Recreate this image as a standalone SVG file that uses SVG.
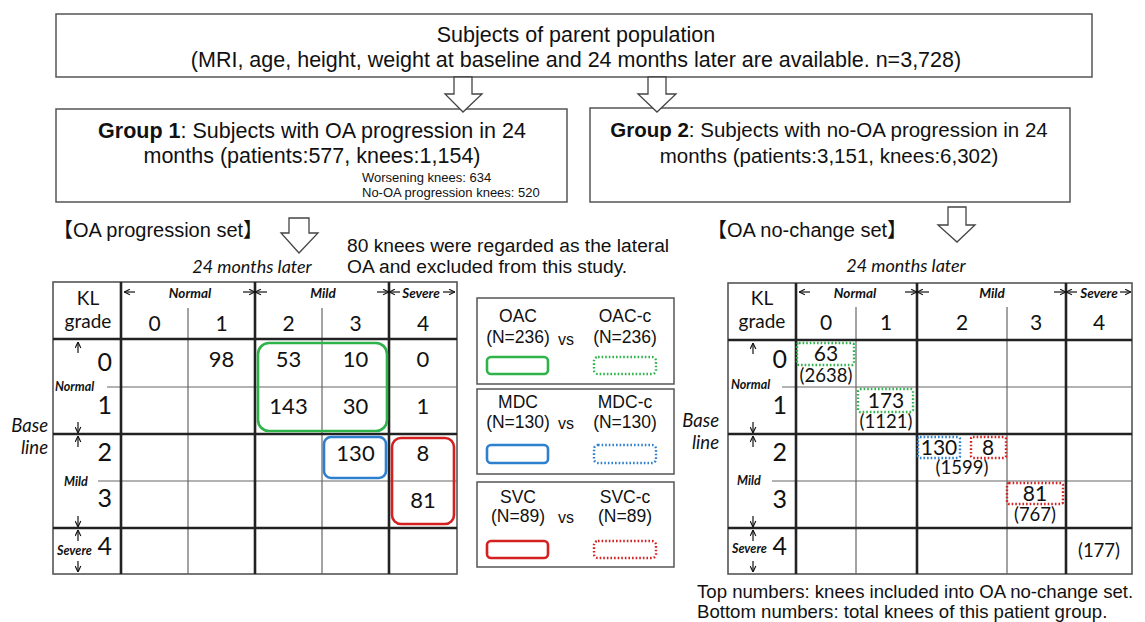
<svg xmlns="http://www.w3.org/2000/svg" width="1145" height="622" viewBox="0 0 1145 622">
  <defs>
    <style>
      .box { fill: #ffffff; stroke: #555555; stroke-width: 1.5; }
      .arr { fill: #ffffff; stroke: #444444; stroke-width: 1.3; stroke-linejoin: miter; }
      .sans { font-family: "Liberation Sans", Arial, "Noto Sans CJK JP", sans-serif; fill: #111111; }
      .cal { font-family: Lato, "Open Sans", sans-serif; fill: #111111; }
      .rng { font-family: Lato, "Open Sans", sans-serif; font-weight: bold; font-style: italic; font-size: 13.5px; fill: #111111; }
      .lbl { font-family: Lato, "Open Sans", sans-serif; font-weight: bold; font-style: italic; font-size: 12.5px; fill: #111111; }
      .thin { stroke: #666666; stroke-width: 1.2; fill: none; }
      .thick { stroke: #222222; stroke-width: 2.6; fill: none; }
      .frame { stroke: #555555; stroke-width: 1.6; fill: none; }
      .tick { stroke: #111111; stroke-width: 1.2; fill: none; marker-end: url(#ah); }
      .num { font-size: 22px; text-anchor: middle; }
      .lab { font-size: 25px; text-anchor: end; }
      .hd { font-size: 21px; text-anchor: middle; }
      .g { stroke: #2db34a; }
      .b { stroke: #2f7fcf; }
      .r { stroke: #d42020; }
      .solid { fill: none; stroke-width: 2.6; }
      .dot { fill: none; stroke-width: 2.4; stroke-dasharray: 1.6 2; }
      .lg { font-size: 17.5px; text-anchor: middle; }
    </style>
    <marker id="ah" viewBox="0 0 10 10" refX="9.5" refY="5" markerWidth="7" markerHeight="7" markerUnits="userSpaceOnUse" orient="auto">
      <path d="M1,1 L9.5,5 L1,9" fill="none" stroke="#111111" stroke-width="1.6"/>
    </marker>
  </defs>

  <!-- parent population -->
  <g id="parent">
    <rect class="box" x="56" y="14" width="1036" height="63"/>
    <text class="sans" x="576" y="42" font-size="21.5" text-anchor="middle">Subjects of parent population</text>
    <text class="sans" x="576" y="67" font-size="21.5" text-anchor="middle">(MRI, age, height, weight at baseline and 24 months later are available. n=3,728)</text>
  </g>

  <!-- group 1 -->
  <g id="group1">
    <rect class="box" x="56" y="109" width="511" height="93"/>
    <text class="sans" x="312" y="138" font-size="21.5" text-anchor="middle"><tspan font-weight="bold">Group 1</tspan>: Subjects with OA progression in 24</text>
    <text class="sans" x="312" y="163" font-size="21.5" text-anchor="middle">months (patients:577, knees:1,154)</text>
    <text class="sans" x="362" y="182" font-size="13">Worsening knees: 634</text>
    <text class="sans" x="362" y="197" font-size="13">No-OA progression knees: 520</text>
  </g>

  <!-- group 2 -->
  <g id="group2">
    <rect class="box" x="590" y="108" width="480" height="94"/>
    <text class="sans" x="829" y="137" font-size="20.5" text-anchor="middle"><tspan font-weight="bold">Group 2</tspan>: Subjects with no-OA progression in 24</text>
    <text class="sans" x="829" y="163" font-size="20.5" text-anchor="middle">months (patients:3,151, knees:6,302)</text>
  </g>

  <!-- block arrows -->
  <g id="connectors">
    <polygon class="arr" points="454,77 472,77 472,94 482,94 463,112 445,94 454,94"/>
    <polygon class="arr" points="648,77 666,77 666,94 676,94 657,112 638,94 648,94"/>
    <polygon class="arr" points="289,218 309,218 309,233 318,233 299,253 281,233 289,233"/>
    <polygon class="arr" points="948,207 966,207 966,225 975,225 957,242 938,225 948,225"/>
  </g>

  <!-- set titles and notes -->
  <g id="titles">
    <text class="sans" x="53" y="237" font-size="20">【OA progression set】</text>
    <text class="sans" x="707" y="237" font-size="20">【OA no-change set】</text>
    <text class="sans" x="347" y="252" font-size="19.2">80 knees were regarded as the lateral</text>
    <text class="sans" x="347" y="273" font-size="19.2">OA and excluded from this study.</text>
    <text class="cal" x="252" y="273" font-size="18" font-style="italic" text-anchor="middle">24 months later</text>
    <text class="cal" x="906" y="272" font-size="18" font-style="italic" text-anchor="middle">24 months later</text>
    <text class="cal" x="48" y="432" font-size="18.5" font-style="italic" text-anchor="end">Base</text>
    <text class="cal" x="48" y="454" font-size="18.5" font-style="italic" text-anchor="end">line</text>
    <text class="cal" x="719" y="427" font-size="18.5" font-style="italic" text-anchor="end">Base</text>
    <text class="cal" x="719" y="449" font-size="18.5" font-style="italic" text-anchor="end">line</text>
  </g>

  <!-- OA progression table -->
  <g id="table-progression">
    <rect class="frame" x="53" y="282" width="404" height="292"/>
    <line class="thin" x1="188" y1="308" x2="188" y2="574"/>
    <line class="thin" x1="322" y1="308" x2="322" y2="574"/>
    <line class="thin" x1="107" y1="387" x2="457" y2="387"/>
    <line class="thin" x1="98" y1="481" x2="457" y2="481"/>
    <line class="thick" x1="121" y1="282" x2="121" y2="574"/>
    <line class="thick" x1="255" y1="282" x2="255" y2="574"/>
    <line class="thick" x1="389" y1="282" x2="389" y2="574"/>
    <line class="thick" x1="53" y1="339" x2="457" y2="339"/>
    <line class="thick" x1="53" y1="434" x2="457" y2="434"/>
    <line class="thick" x1="53" y1="528" x2="457" y2="528"/>

    <text class="cal" x="88" y="305" font-size="19" text-anchor="middle">KL</text>
    <text class="cal" x="88" y="328" font-size="19" text-anchor="middle">grade</text>

    <path class="tick" d="M135,292 H124"/>
    <text class="rng" x="190" y="298" text-anchor="middle">Normal</text>
    <path class="tick" d="M243,292 H255"/>
    <path class="tick" d="M267,292 H255"/>
    <text class="rng" x="323" y="298" text-anchor="middle">Mild</text>
    <path class="tick" d="M377,292 H389"/>
    <path class="tick" d="M400,292 H389"/>
    <text class="rng" x="421" y="298" text-anchor="middle">Severe</text>
    <path class="tick" d="M443,292 H455"/>

    <text class="cal hd" x="154.5" y="331">0</text>
    <text class="cal hd" x="221.5" y="331">1</text>
    <text class="cal hd" x="288.5" y="331">2</text>
    <text class="cal hd" x="355.5" y="331">3</text>
    <text class="cal hd" x="423" y="331">4</text>

    <path class="tick" d="M78,353 V342"/>
    <text class="cal lab" x="112" y="371">0</text>
    <text class="lbl" x="55" y="391">Normal</text>
    <text class="cal lab" x="112" y="414">1</text>
    <path class="tick" d="M78,422 V433"/>
    <path class="tick" d="M78,447 V436"/>
    <text class="cal lab" x="112" y="461">2</text>
    <text class="lbl" x="64" y="486">Mild</text>
    <text class="cal lab" x="112" y="507">3</text>
    <path class="tick" d="M78,516 V527"/>
    <path class="tick" d="M78,541 V530"/>
    <text class="lbl" x="57" y="555">Severe</text>
    <text class="cal lab" x="112" y="555">4</text>
    <path class="tick" d="M78,561 V572"/>

    <text class="cal num" x="221.5" y="367">98</text>
    <text class="cal num" x="288.5" y="367">53</text>
    <text class="cal num" x="355.5" y="367">10</text>
    <text class="cal num" x="423" y="367">0</text>
    <text class="cal num" x="288.5" y="414">143</text>
    <text class="cal num" x="355.5" y="414">30</text>
    <text class="cal num" x="423" y="414">1</text>
    <text class="cal num" x="355.5" y="461">130</text>
    <text class="cal num" x="423" y="461">8</text>
    <text class="cal num" x="423" y="508">81</text>

    <rect class="solid g" x="258" y="343" width="129" height="88" rx="11"/>
    <rect class="solid b" x="324" y="437" width="62" height="41" rx="7"/>
    <rect class="solid r" x="392" y="438" width="62" height="86" rx="9"/>
  </g>

  <!-- legend -->
  <g id="legend-oac">
    <rect class="box" x="477" y="298" width="197" height="86"/>
    <text class="sans lg" x="518" y="322">OAC</text>
    <text class="sans lg" x="518" y="343">(N=236)</text>
    <text class="sans" x="566" y="345" font-size="16" text-anchor="middle">vs</text>
    <text class="sans lg" x="625" y="322">OAC-c</text>
    <text class="sans lg" x="625" y="343">(N=236)</text>
    <rect class="solid g" x="487" y="357" width="61" height="17" rx="4"/>
    <rect class="dot g" x="594" y="357" width="62" height="17" rx="4"/>
  </g>
  <g id="legend-mdc">
    <rect class="box" x="477" y="389" width="197" height="85"/>
    <text class="sans lg" x="518" y="408">MDC</text>
    <text class="sans lg" x="518" y="428">(N=130)</text>
    <text class="sans" x="566" y="429" font-size="16" text-anchor="middle">vs</text>
    <text class="sans lg" x="625" y="408">MDC-c</text>
    <text class="sans lg" x="625" y="428">(N=130)</text>
    <rect class="solid b" x="487" y="445" width="61" height="18" rx="4"/>
    <rect class="dot b" x="594" y="445" width="62" height="18" rx="4"/>
  </g>
  <g id="legend-svc">
    <rect class="box" x="477" y="482" width="197" height="85"/>
    <text class="sans lg" x="518" y="503">SVC</text>
    <text class="sans lg" x="518" y="522">(N=89)</text>
    <text class="sans" x="566" y="523" font-size="16" text-anchor="middle">vs</text>
    <text class="sans lg" x="625" y="503">SVC-c</text>
    <text class="sans lg" x="625" y="522">(N=89)</text>
    <rect class="solid r" x="487" y="541" width="61" height="17" rx="4"/>
    <rect class="dot r" x="594" y="541" width="62" height="17" rx="4"/>
  </g>

  <!-- OA no-change table -->
  <g id="table-nochange">
    <rect class="frame" x="728" y="283" width="404" height="291"/>
    <line class="thin" x1="856" y1="307" x2="856" y2="574"/>
    <line class="thin" x1="1007" y1="307" x2="1007" y2="574"/>
    <line class="thin" x1="782" y1="387" x2="1132" y2="387"/>
    <line class="thin" x1="772" y1="481" x2="1132" y2="481"/>
    <line class="thick" x1="796" y1="283" x2="796" y2="574"/>
    <line class="thick" x1="917" y1="283" x2="917" y2="574"/>
    <line class="thick" x1="1066" y1="283" x2="1066" y2="574"/>
    <line class="thick" x1="728" y1="340" x2="1132" y2="340"/>
    <line class="thick" x1="728" y1="434" x2="1132" y2="434"/>
    <line class="thick" x1="728" y1="528" x2="1132" y2="528"/>

    <text class="cal" x="762" y="305" font-size="19" text-anchor="middle">KL</text>
    <text class="cal" x="762" y="328" font-size="19" text-anchor="middle">grade</text>

    <path class="tick" d="M810,292 H799"/>
    <text class="rng" x="855" y="298" text-anchor="middle">Normal</text>
    <path class="tick" d="M905,292 H917"/>
    <path class="tick" d="M929,292 H917"/>
    <text class="rng" x="992" y="298" text-anchor="middle">Mild</text>
    <path class="tick" d="M1054,292 H1066"/>
    <path class="tick" d="M1077,292 H1066"/>
    <text class="rng" x="1099" y="298" text-anchor="middle">Severe</text>
    <path class="tick" d="M1120,292 H1131"/>

    <text class="cal hd" x="826" y="330">0</text>
    <text class="cal hd" x="886" y="330">1</text>
    <text class="cal hd" x="962" y="330">2</text>
    <text class="cal hd" x="1036" y="330">3</text>
    <text class="cal hd" x="1099" y="330">4</text>

    <path class="tick" d="M753,354 V343"/>
    <text class="cal lab" x="787" y="368">0</text>
    <text class="lbl" x="731" y="389">Normal</text>
    <text class="cal lab" x="787" y="414">1</text>
    <path class="tick" d="M753,422 V433"/>
    <path class="tick" d="M753,447 V436"/>
    <text class="cal lab" x="787" y="461">2</text>
    <text class="lbl" x="737" y="485">Mild</text>
    <text class="cal lab" x="787" y="508">3</text>
    <path class="tick" d="M753,516 V527"/>
    <path class="tick" d="M753,541 V530"/>
    <text class="lbl" x="732" y="553">Severe</text>
    <text class="cal lab" x="787" y="555">4</text>
    <path class="tick" d="M753,561 V572"/>

    <rect class="dot g" x="797" y="343" width="57" height="22" rx="2"/>
    <text class="cal" x="826" y="361" font-size="21" text-anchor="middle">63</text>
    <text class="cal" x="826" y="382" font-size="18.5" text-anchor="middle">(2638)</text>

    <rect class="dot g" x="858" y="389" width="55" height="23" rx="2"/>
    <text class="cal" x="886" y="408" font-size="21" text-anchor="middle">173</text>
    <text class="cal" x="886" y="428" font-size="18.5" text-anchor="middle">(1121)</text>

    <rect class="dot b" x="918" y="437" width="42" height="21" rx="2"/>
    <text class="cal" x="939" y="455" font-size="21" text-anchor="middle">130</text>
    <rect class="dot r" x="971" y="437" width="35" height="21" rx="2"/>
    <text class="cal" x="988" y="455" font-size="21" text-anchor="middle">8</text>
    <text class="cal" x="962" y="474" font-size="18.5" text-anchor="middle">(1599)</text>

    <rect class="dot r" x="1007" y="483" width="56" height="21" rx="2"/>
    <text class="cal" x="1035" y="501" font-size="21" text-anchor="middle">81</text>
    <text class="cal" x="1035" y="521" font-size="18.5" text-anchor="middle">(767)</text>

    <text class="cal" x="1099" y="557" font-size="18.5" text-anchor="middle">(177)</text>
  </g>

  <!-- footnote -->
  <g id="footnote">
    <text class="sans" x="697" y="598" font-size="18.6">Top numbers: knees included into OA no-change set.</text>
    <text class="sans" x="697" y="618" font-size="18.6">Bottom numbers: total knees of this patient group.</text>
  </g>
</svg>
